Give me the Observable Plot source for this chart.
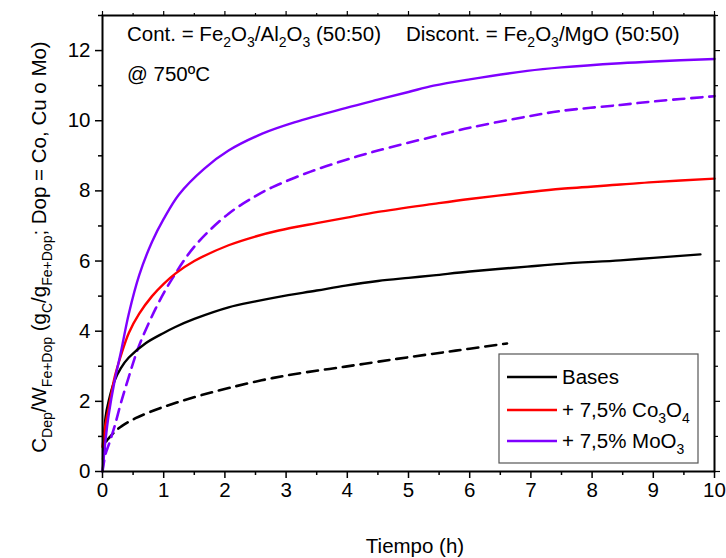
<!DOCTYPE html>
<html>
<head>
<meta charset="utf-8">
<script src="https://cdn.jsdelivr.net/npm/d3@7"></script>
<script src="https://cdn.jsdelivr.net/npm/@observablehq/plot@0.6"></script>
<style>
  html, body { margin: 0; padding: 0; background: #fff; }
  #chart svg { display: block; }
</style>
</head>
<body>
<div id="chart"></div>
<script>
// ---- Data ----
const seriesNames = ["Bases", "+ 7,5% Co3O4", "+ 7,5% MoO3"];
const seriesColors = ["#000000", "#ff0000", "#7f00ff"];

// Bases, Cont. (Fe2O3/Al2O3) – solid black
const baseContT = [0.01, 0.05, 0.1, 0.2, 0.3, 0.43, 0.7, 1.0, 1.19, 1.5, 2.06, 2.5, 2.88, 3.5, 3.97, 4.5, 5.0, 5.41, 6.0, 6.94, 7.5, 8.46, 9.0, 9.77];
const baseContV = [0.4, 1.55, 2.0, 2.6, 2.95, 3.25, 3.65, 3.95, 4.12, 4.35, 4.68, 4.85, 4.98, 5.16, 5.3, 5.43, 5.52, 5.59, 5.7, 5.84, 5.92, 6.02, 6.09, 6.19];
// Bases, Discont. (Fe2O3/MgO) – dashed black
const baseDiscT = [0.01, 0.06, 0.13, 0.21, 0.32, 0.54, 0.87, 1.2, 1.6, 2.06, 2.6, 3.15, 3.97, 4.81, 5.5, 6.0, 6.61];
const baseDiscV = [0.35, 0.85, 1.0, 1.15, 1.3, 1.52, 1.76, 1.96, 2.17, 2.38, 2.6, 2.78, 2.99, 3.21, 3.38, 3.5, 3.65];
// + 7,5% Co3O4, Cont. – solid red
const coContT = [0.0, 0.05, 0.1, 0.2, 0.3, 0.43, 0.6, 0.81, 1.0, 1.19, 1.5, 2.06, 2.5, 2.88, 3.5, 3.97, 4.5, 5.41, 6.0, 6.94, 7.5, 8.46, 9.0, 10.0];
const coContV = [0.7, 1.35, 1.8, 2.7, 3.3, 3.95, 4.5, 5.0, 5.35, 5.64, 6.0, 6.45, 6.7, 6.87, 7.08, 7.23, 7.4, 7.63, 7.77, 7.96, 8.06, 8.18, 8.25, 8.35];
// + 7,5% MoO3, Cont. – solid purple
const moContT = [0.0, 0.05, 0.1, 0.2, 0.3, 0.43, 0.6, 0.81, 1.0, 1.25, 1.66, 2.06, 2.61, 3.15, 3.97, 4.5, 5.0, 5.41, 6.0, 6.94, 7.5, 8.46, 9.0, 10.0];
const moContV = [0.0, 0.9, 1.6, 2.6, 3.4, 4.5, 5.6, 6.55, 7.2, 7.9, 8.63, 9.15, 9.63, 9.96, 10.36, 10.6, 10.82, 11.0, 11.18, 11.42, 11.52, 11.64, 11.69, 11.76];
// + 7,5% MoO3, Discont. – dashed purple
const moDiscT = [0.0, 0.05, 0.1, 0.2, 0.3, 0.43, 0.59, 0.87, 1.14, 1.52, 2.06, 2.5, 2.77, 3.4, 3.97, 4.5, 5.41, 6.0, 6.94, 7.5, 8.46, 9.0, 10.0];
const moDiscV = [0.0, 0.5, 0.75, 1.3, 1.95, 2.7, 3.55, 4.65, 5.5, 6.45, 7.35, 7.85, 8.1, 8.55, 8.88, 9.15, 9.55, 9.8, 10.12, 10.28, 10.45, 10.55, 10.7];

const xTicks = [0, 1, 2, 3, 4, 5, 6, 7, 8, 9, 10];
const xMinorTicks = [0.5, 1.5, 2.5, 3.5, 4.5, 5.5, 6.5, 7.5, 8.5, 9.5];
const yTicks = [0, 2, 4, 6, 8, 10, 12];
const yMinorTicks = [1, 3, 5, 7, 9, 11, 13];

// ---- Build table ----
function toRows(t, v, series) {
  return t.map((x, i) => ({x, y: v[i], series}));
}
const solidRows = [
  ...toRows(baseContT, baseContV, seriesNames[0]),
  ...toRows(coContT, coContV, seriesNames[1]),
  ...toRows(moContT, moContV, seriesNames[2])
];
const dashedRows = [
  ...toRows(baseDiscT, baseDiscV, seriesNames[0]),
  ...toRows(moDiscT, moDiscV, seriesNames[2])
];

const FONT = "'Liberation Sans', Arial, sans-serif";
const FS = 20.5;   // main font size
const SUB = 14;    // subscript font size

const plot = Plot.plot({
  width: 726,
  height: 558,
  marginLeft: 102,
  marginRight: 12,
  marginTop: 15,
  marginBottom: 87,
  style: {fontFamily: FONT, fontSize: FS + "px", color: "#000", background: "#fff"},
  x: {domain: [0, 10]},
  y: {domain: [0, 13]},
  color: {domain: seriesNames, range: seriesColors},
  marks: [
    Plot.line(dashedRows, {x: "x", y: "y", z: "series", stroke: "series", strokeWidth: 2.6, strokeDasharray: "11,7", curve: "catmull-rom"}),
    Plot.line(solidRows, {x: "x", y: "y", z: "series", stroke: "series", strokeWidth: 2.4, curve: "catmull-rom"}),
    // bottom axis
    Plot.axisX({anchor: "bottom", ticks: xTicks, tickSize: 7, tickPadding: 4, strokeWidth: 1.5, fontSize: FS, label: null}),
    Plot.axisX({anchor: "bottom", ticks: xMinorTicks, tickSize: 4, strokeWidth: 1.5, text: null, label: null}),
    // top axis (ticks only)
    Plot.axisX({anchor: "top", ticks: xTicks, tickSize: 5, strokeWidth: 1.2, text: null, label: null}),
    Plot.axisX({anchor: "top", ticks: xMinorTicks, tickSize: 3, strokeWidth: 1.2, text: null, label: null}),
    // left axis
    Plot.axisY({anchor: "left", ticks: yTicks, tickSize: 7, tickPadding: 5, strokeWidth: 1.5, fontSize: FS, label: null}),
    Plot.axisY({anchor: "left", ticks: yMinorTicks, tickSize: 4, strokeWidth: 1.5, text: null, label: null}),
    // right axis (ticks only)
    Plot.axisY({anchor: "right", ticks: yTicks, tickSize: 5, strokeWidth: 1.2, text: null, label: null}),
    Plot.axisY({anchor: "right", ticks: yMinorTicks, tickSize: 3, strokeWidth: 1.2, text: null, label: null}),
    Plot.frame({stroke: "#000", strokeWidth: 2})
  ]
});

document.getElementById("chart").appendChild(plot);

// ---- Rich text (subscripts) ----
const svg = d3.select(plot);
const sx = plot.scale("x");
const sy = plot.scale("y");

function rich(g, parts, size, subSize) {
  let prevSub = false;
  parts.forEach(([txt, sub]) => {
    const ts = g.append("tspan").text(txt);
    if (sub && !prevSub) ts.attr("dy", size * 0.3);
    if (!sub && prevSub) ts.attr("dy", -size * 0.3);
    ts.attr("font-size", sub ? subSize : size);
    prevSub = sub;
  });
}
function addText(x, y, anchor) {
  return svg.append("text").attr("x", x).attr("y", y)
    .attr("text-anchor", anchor).attr("font-family", FONT).attr("fill", "#000")
    .style("white-space", "pre");
}

const t1 = addText(127, 41, "start");
rich(t1, [["Cont. = Fe", false], ["2", true], ["O", false], ["3", true], ["/Al", false], ["2", true], ["O", false], ["3", true], [" (50:50)", false]], FS, SUB);
const t2 = addText(406, 41, "start");
rich(t2, [["Discont. = Fe", false], ["2", true], ["O", false], ["3", true], ["/MgO (50:50)", false]], FS, SUB);

addText(127, 81, "start").attr("font-size", FS).text("@ 750ºC");

// X axis title
addText(415, 553, "middle").attr("font-size", FS).text("Tiempo (h)");

// Y axis title
const yl = svg.append("text")
  .attr("transform", `translate(46, ${(sy.apply(0) + sy.apply(13)) / 2 + 4}) rotate(-90)`)
  .attr("text-anchor", "middle").attr("font-family", FONT).attr("fill", "#000");
rich(yl, [["C", false], ["Dep", true], ["/W", false], ["Fe+Dop", true], [" (g", false], ["C", true], ["/g", false], ["Fe+Dop", true], ["; Dop = Co, Cu o Mo)", false]], FS, SUB);

// Legend
const lg = svg.append("g");
lg.append("rect").attr("x", 499).attr("y", 354).attr("width", 199).attr("height", 109)
  .attr("fill", "#fff").attr("stroke", "#555").attr("stroke-width", 1.2);
const legendLabels = [
  [["Bases", false]],
  [["+ 7,5% Co", false], ["3", true], ["O", false], ["4", true]],
  [["+ 7,5% MoO", false], ["3", true]]
];
const legendY = [377, 410, 441];
legendLabels.forEach((parts, i) => {
  lg.append("line").attr("x1", 507).attr("x2", 557).attr("y1", legendY[i]).attr("y2", legendY[i])
    .attr("stroke", seriesColors[i]).attr("stroke-width", 2.4);
  const t = addText(562, legendY[i] + 7, "start");
  lg.node().appendChild(t.node());
  rich(t, parts, FS, SUB);
});
</script>
</body>
</html>
